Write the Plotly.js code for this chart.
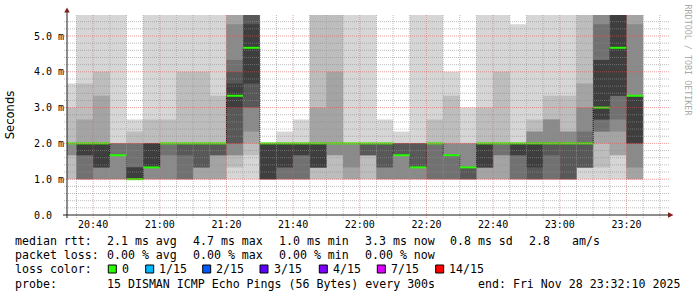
<!DOCTYPE html>
<html><head><meta charset="utf-8">
<script src="https://cdn.plot.ly/plotly-3.0.1.min.js"></script>
<style>html,body{margin:0;padding:0;background:#fff}#chart{width:697px;height:297px}</style>
</head><body><div id="chart"></div>
<script>
// 5-minute steps (start of each step)
const times = ['2025-11-28 20:30','2025-11-28 20:35','2025-11-28 20:40','2025-11-28 20:45','2025-11-28 20:50','2025-11-28 20:55',
 '2025-11-28 21:00','2025-11-28 21:05','2025-11-28 21:10','2025-11-28 21:15','2025-11-28 21:20','2025-11-28 21:25',
 '2025-11-28 21:30','2025-11-28 21:35','2025-11-28 21:40','2025-11-28 21:45','2025-11-28 21:50','2025-11-28 21:55',
 '2025-11-28 22:00','2025-11-28 22:05','2025-11-28 22:10','2025-11-28 22:15','2025-11-28 22:20','2025-11-28 22:25',
 '2025-11-28 22:30','2025-11-28 22:35','2025-11-28 22:40','2025-11-28 22:45','2025-11-28 22:50','2025-11-28 22:55',
 '2025-11-28 23:00','2025-11-28 23:05','2025-11-28 23:10','2025-11-28 23:15','2025-11-28 23:20'];
const rangeStart = '2025-11-28 20:32:10';
const rangeEnd = '2025-11-28 23:32:10';

// sorted ping RTTs (ms) per step, rank 1 (fastest) .. rank 15 (slowest); rank 8 = median
const p01 = [1,1,1,1,1,1,1,1,1,1,1,1,1,1,1,1,1,1,1,1,1,1,1,1,1,1,1,1,1,1,1,1,1,1,1];
const p02 = [1,1,1,1,1,1,1,1,1,1,1.33,1.67,1,1,1,1,1,1,1,1,1,1,1,1,1,1,1,1,1,1,1,1.33,1.33,1.67,1];
const p03 = [1.67,1,1,1,1,1,1,1,1,1,1.67,2,1,1,1,1.33,1.67,1,1.67,1,1,1,1,1,1,1,1,1,1,1,1,1.33,2,1.67,1];
const p04 = [1.67,1,1,1,1,1,1,1,1.33,1.67,1.67,2.33,1,1,1,1.33,1.67,1.33,1.67,1,1,1,1,1,1,1.33,1.67,1,1,1,1,1.33,2.33,2.33,1.33];
const p05 = [2,1,1.33,1.67,1,1.33,1.67,1,1.33,1.67,2,3,1,1,1,1.33,2,2,1.67,1.33,1.67,1.33,1,1,1,1.33,1.67,1,1,1,1,1.33,2.33,2.67,2];
const p06 = [2,1.67,1.33,1.67,1,1.33,2,1.67,1.33,1.67,2,3,1,1.33,1.67,1.33,2,2,1.67,1.33,1.67,1.33,2,1.67,1,1.33,2,1.67,1,1.67,1,1.33,2.67,3.33,2];
const p07 = [2,1.67,1.33,1.67,1,1.33,2,2,2,2,3,3.67,1,1.33,1.67,1.33,2,2,2,2,1.67,1.33,2,1.67,1.33,1.33,2,1.67,1.33,2,2,2,2.67,3.33,2];
const p08 = [2,2,2,1.67,1,1.33,2,2,2,2,3.33,4.67,2,2,2,2,2,2,2,2,1.67,1.33,2,1.67,1.33,2,2,2,2,2,2,2,3,4.67,3.33];
const p09 = [2,2,2,1.67,1.33,2,2,2,2,2,3.67,5.33,2,2,2,2,2,2,2,2,1.67,1.33,2,1.67,1.33,2,2,2,2,2,2,2,4.33,6,3.33];
const p10 = [2,2,2,1.67,1.33,2,2,2,2,2,4,6,2,2,2,2,2,2,2,2,2,2,2,1.67,1.33,2,2,2,2,2,2,2,4.33,6,3.33];
const p11 = [2,2,2,2,2,2,2,2,2,2,4.33,6,2,2,2,2,2,2,2,2,2,2,2,1.67,1.33,2,2,2,2,2,2,2.33,5.33,6,3.33];
const p12 = [2,2,2,2,2,2,2,2,2,2,5.33,6,2,2,2,2,2,2,2,2,2,2,2,2,2,2,2,2,2.33,2.67,2.33,3,6,6,5.33];
const p13 = [2,2.67,3.33,2,2,2,2,2,2,2,6,6,2,2,2,3,4,2,2,2,2,2,2,2,2,2,2,2,2.33,2.67,2.33,3.67,6,6,6];
const p14 = [3,3.67,4,2,2.33,2.67,2.67,4,4,3.33,6,6,2,2,2,6,6,2,2,2,2,2,2.67,3.33,2,3,4,2,2.67,3.33,3.33,6,6,6,6];
const p15 = [3.67,6,6,6,2.67,6,6,6,6,6,6,6,2,2.33,2.67,6,6,6,6,2.67,2.33,6,6,4,3,6,6,5.33,6,6,6,6,6,6,6];

const yTickVals = [0,1,2,3,4,5];
const yTickText = ['0.0\u00a0\u00a0','1.0 m','2.0 m','3.0 m','4.0 m','5.0 m'];

const lossLabels = ['0','1/15','2/15','3/15','4/15','7/15','14/15'];
const lossColors = ['#26ff00','#00b8ff','#0059ff','#5e00ff','#7e00ff','#dd00ff','#ff0000'];

const rttRow = ['median rtt:','2.1 ms avg','4.7 ms max','1.0 ms min','3.3 ms now','0.8 ms sd','2.8','am/s'];
const lossRow = ['packet loss:','0.00 % avg','0.00 % max','0.00 % min','0.00 % now'];
const probeRow = ['probe:','15 DISMAN ICMP Echo Pings (56 Bytes) every 300s','end: Fri Nov 28 23:32:10 2025'];

// ---------- layout helpers (pixel geometry) ----------
const W = 697, H = 297, L = 67, R = 30, TOP = 15, B = 82;
const PW = W - L - R, PH = H - TOP - B;
const X = px => (px - L) / PW;
const Y = py => (H - B - py) / PH;
const toMs = s => Date.parse(s.replace(' ', 'T') + 'Z');
const STEP = 300000;

const t0 = times.map(toMs);
const centers = t0.map(t => t + STEP / 2);
const ranks = [p01,p02,p03,p04,p05,p06,p07,p08,p09,p10,p11,p12,p13,p14,p15];
const shades = ['#d6d6d6','#bdbdbd','#a4a4a4','#8a8a8a','#717171','#585858','#3e3e3e'];

const traces = [];
for (let k = 0; k < 7; k++) {
  const lo = ranks[k], hi = ranks[14 - k];
  traces.push({type:'bar', x:centers, base:lo, y:hi.map((v,i)=>v-lo[i]), width:STEP,
    marker:{color:shades[k], line:{width:0}}, hoverinfo:'skip', showlegend:false});
}
traces.push({type:'scatter', mode:'lines', x:centers, y:p08,
  line:{shape:'hvh', color:'#000000', width:1, dash:'1px,1px'}, hoverinfo:'skip', showlegend:false});
const gx = [], gy = [];
t0.forEach((t,i) => { gx.push(t, t + STEP, null); gy.push(p08[i], p08[i], null); });
traces.push({type:'scatter', mode:'lines', x:gx, y:gy, connectgaps:false,
  line:{color:lossColors[0], width:2}, hoverinfo:'skip', showlegend:false});

// ---------- grid (drawn above the smoke, like rrdtool) ----------
const shapes = [];
const minorC = 'rgba(143,143,143,0.6)', majorC = 'rgba(222,80,80,0.55)';
const xs = toMs(rangeStart), xe = toMs(rangeEnd);
for (let t = toMs('2025-11-28 20:35'); t < xe; t += STEP) {
  const major = ((t - toMs('2025-11-28 20:40')) % (4*STEP)) === 0;
  shapes.push({type:'line', layer:'above', xref:'x', yref:'paper', x0:t, x1:t, y0:-3/PH, y1:1,
    line:{color: major ? majorC : minorC, width:1, dash:'1px,1px'}});
}
for (let i = 1; i <= 27; i++) {
  const v = i * 0.2;
  const major = i % 5 === 0;
  shapes.push({type:'line', layer:'above', xref:'paper', yref:'y', x0:-3/PW, x1:1.004, y0:v, y1:v,
    line:{color: major ? majorC : minorC, width:1, dash:'1px,1px'}});
}
// axes with arrows
shapes.push({type:'line', layer:'above', xref:'paper', yref:'paper', x0:X(63), x1:X(669), y0:0, y1:0, line:{color:'#1f1f1f', width:1}});
shapes.push({type:'line', layer:'above', xref:'paper', yref:'paper', x0:0, x1:0, y0:Y(218), y1:Y(11), line:{color:'#1f1f1f', width:1}});
shapes.push({type:'path', layer:'above', xref:'paper', yref:'paper',
  path:`M ${X(64.2)} ${Y(12.5)} L ${X(67)} ${Y(7.5)} L ${X(69.8)} ${Y(12.5)} Z`, fillcolor:'#801f1f', line:{width:0}});
shapes.push({type:'path', layer:'above', xref:'paper', yref:'paper',
  path:`M ${X(668)} ${Y(212.3)} L ${X(673.5)} ${Y(215)} L ${X(668)} ${Y(217.7)} Z`, fillcolor:'#801f1f', line:{width:0}});

// ---------- legend text ----------
const annotations = [];
const mono = 'DejaVu Sans Mono';
function txt(s, px, py, extra) {
  annotations.push(Object.assign({text:s, xref:'paper', yref:'paper', x:X(px), y:Y(py), xanchor:'left', yanchor:'middle',
    showarrow:false, borderpad:0, borderwidth:0, font:{family:mono, size:11.6, color:'#000'}}, extra||{}));
}
const rttX = [16,107.3,193.3,279.3,365.7,451,530,572.7];
rttRow.forEach((s,i) => txt(s, rttX[i]-0.7, 241));
const lossX = [16,107.3,193.3,279.3,365.7];
lossRow.forEach((s,i) => txt(s, lossX[i]-0.7, 255.3));
txt('loss color:', 15.3, 269.3);
const boxX = [108.3,145.7,202.7,260,319.3,377.3,435.7];
lossLabels.forEach((s,i) => {
  shapes.push({type:'rect', xref:'paper', yref:'paper', x0:X(boxX[i]), x1:X(boxX[i]+8), y0:Y(273), y1:Y(265),
    fillcolor:lossColors[i], line:{color:'#000', width:1}});
  txt(s, boxX[i] + 13.7, 269.3);
});
const probeX = [16,107.3,478.3];
probeRow.forEach((s,i) => txt(s, probeX[i]-0.7, 283.7));
annotations.push({text:'RRDTOOL / TOBI OETIKER', xref:'paper', yref:'paper', x:X(687.5), y:Y(60), textangle:90,
  xanchor:'center', yanchor:'middle', showarrow:false, borderpad:0, borderwidth:0,
  font:{family:mono, size:8.4, color:'#aaaaaa'}});

const layout = {
  width:W, height:H, autosize:false,
  margin:{l:L, r:R, t:TOP, b:B, pad:0},
  paper_bgcolor:'#ffffff', plot_bgcolor:'#ffffff',
  barmode:'overlay', showlegend:false,
  font:{family:mono, size:10, color:'#000'},
  xaxis:{type:'date', range:[xs, xe], showgrid:false, zeroline:false, showline:false, ticks:'',
    tickmode:'linear', tick0:'2025-11-28 20:40', dtick:4*STEP, tickformat:'%H:%M', ticklabelstandoff:2,
    tickfont:{family:mono, size:10, color:'#000'}, fixedrange:true},
  yaxis:{range:[0, 200/35.8], showgrid:false, zeroline:false, showline:false, ticks:'',
    tickmode:'array', tickvals:yTickVals, ticktext:yTickText, ticklabelstandoff:2,
    tickfont:{family:mono, size:10, color:'#000'}, fixedrange:true,
    title:{text:'Seconds', font:{family:'DejaVu Sans', size:11.6, color:'#000'}, standoff:16}},
  shapes:shapes, annotations:annotations
};
Plotly.newPlot('chart', traces, layout, {staticPlot:true, displayModeBar:false});
</script>
</body></html>
